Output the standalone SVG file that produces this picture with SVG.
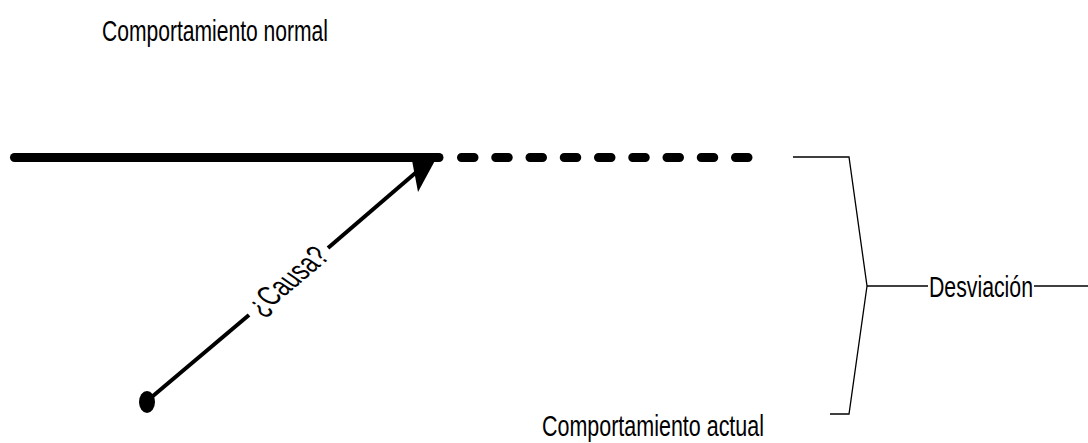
<svg xmlns="http://www.w3.org/2000/svg" width="1088" height="443" viewBox="0 0 1088 443">
<style>
text{font-family:"Liberation Sans Narrow","Arial Narrow","Liberation Sans",sans-serif;font-size:29px;fill:#000}
.thick{stroke:#000;stroke-width:9;stroke-linecap:round;fill:none}
.thin{stroke:#000;stroke-width:1.3;fill:none}
</style>
<rect width="1088" height="443" fill="#fff"/>
<g id="normal-label"><text x="102" y="41" textLength="226" lengthAdjust="spacingAndGlyphs">Comportamiento normal</text></g>
<g id="actual-label"><text x="542" y="436" textLength="222" lengthAdjust="spacingAndGlyphs">Comportamiento actual</text></g>
<g id="connectors">
<line class="thick" x1="14.5" y1="157.5" x2="439" y2="157.5"/>
<line class="thick" x1="461.5" y1="157.5" x2="760" y2="157.5" stroke-dasharray="12.5 21.75"/>
<line x1="147" y1="401" x2="249" y2="315" stroke="#000" stroke-width="4"/>
<line x1="328" y1="248" x2="420" y2="169" stroke="#000" stroke-width="4"/>
<polygon points="411,155 438,155 418,192" fill="#000"/>
<polyline class="thin" points="793,157 849,157 867,286 849,414 830,414"/>
<line class="thin" x1="867" y1="286" x2="928" y2="286"/>
<line class="thin" x1="1034" y1="286" x2="1088" y2="286"/>
</g>
<g id="cause-dot"><ellipse cx="147" cy="402" rx="8" ry="11" fill="#000"/></g>
<g id="cause-label"><text transform="translate(288.5,281.5) rotate(-40.1) skewX(15)" x="0" y="9" text-anchor="middle" textLength="92" lengthAdjust="spacingAndGlyphs" style="font-size:31px">¿Causa?</text></g>
<g id="desviacion-label"><text x="929" y="297" textLength="104" lengthAdjust="spacingAndGlyphs">Desviación</text></g>
</svg>
